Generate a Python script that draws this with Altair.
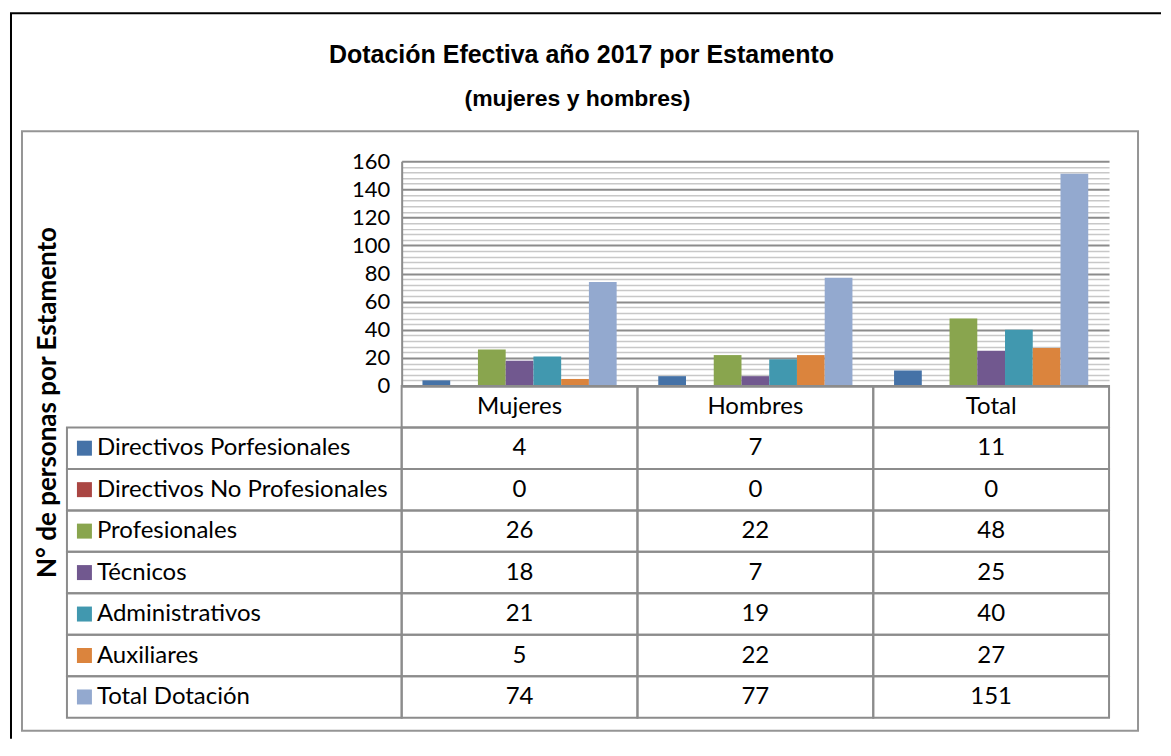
import altair as alt
import pandas as pd

# ---------------- data ----------------
categories = ["Mujeres", "Hombres", "Total"]
series = [
    "Directivos Porfesionales",
    "Directivos No Profesionales",
    "Profesionales",
    "Técnicos",
    "Administrativos",
    "Auxiliares",
    "Total Dotación",
]
values_mujeres = [4, 0, 26, 18, 21, 5, 74]
values_hombres = [7, 0, 22, 7, 19, 22, 77]
values_total = [11, 0, 48, 25, 40, 27, 151]
colors = ["#4572A7", "#AA4643", "#89A54E", "#71588F", "#4198AF", "#DB843D", "#93A9CF"]
y_ticks = list(range(0, 161, 4))

title_text = "Dotación Efectiva año 2017 por Estamento"
subtitle_text = "(mujeres y hombres)"
y_title = "N° de personas por Estamento"

# ---------------- styles ----------------
FONT = "Lato"
TFONT = "Liberation Sans Narrow, Arial Narrow, Liberation Sans"
GRAY = "#8C8C8C"
FS = 22
TFS = 24
HEADER = " "
row_order = [HEADER] + series

records = []
for cat, vals in zip(categories, [values_mujeres, values_hombres, values_total]):
    for s, v in zip(series, vals):
        records.append({"cat": cat, "serie": s, "valor": v})
df = pd.DataFrame(records)

table_records = [{"cat": c, "fila": HEADER, "texto": c} for c in categories]
table_records += [{"cat": r["cat"], "fila": r["serie"], "texto": str(r["valor"])} for r in records]
tdf = pd.DataFrame(table_records)

ldf = pd.DataFrame({"fila": series, "serie": series})
one = pd.DataFrame({"k": [0]})

color_scale = alt.Scale(domain=series, range=colors)

# ---------------- bar chart ----------------
bars = alt.Chart(df).mark_bar().encode(
    x=alt.X("cat:N", sort=categories,
            scale=alt.Scale(paddingInner=0, paddingOuter=0),
            axis=alt.Axis(labels=False, ticks=False, title=None, domainColor=GRAY, domainWidth=2)),
    xOffset=alt.XOffset("serie:N", sort=series,
                        scale=alt.Scale(paddingInner=0, paddingOuter=0.75)),
    y=alt.Y("valor:Q", scale=alt.Scale(domain=[0, 160], nice=False),
            axis=alt.Axis(
                values=y_ticks, ticks=False, labelOverlap=False, labelFlush=False,
                labelExpr="datum.value % 20 === 0 ? datum.label : ''",
                labelFont=FONT, labelFontSize=FS, labelColor="black", labelPadding=12,
                domainColor=GRAY, domainWidth=2,
                gridColor={"condition": {"test": "datum.value % 20 === 0", "value": "#8C8C8C"}, "value": "#C8C8C8"},
                gridWidth={"condition": {"test": "datum.value % 20 === 0", "value": 2}, "value": 1.5},
                title=y_title, titleFont=FONT, titleFontSize=26, titleFontWeight="bold",
                titleColor="black", titleAngle=270, titleAlign="center", titleBaseline="alphabetic",
                titleX=-346, titleY=241,
            )),
    color=alt.Color("serie:N", sort=series, scale=color_scale, legend=None),
).properties(width=708, height=225)

# ---------------- values table ----------------
tbase = alt.Chart(tdf).encode(
    x=alt.X("cat:N", sort=categories, scale=alt.Scale(paddingInner=0, paddingOuter=0), axis=None),
    y=alt.Y("fila:N", sort=row_order, scale=alt.Scale(domain=row_order, paddingInner=0, paddingOuter=0), axis=None),
)
tcells = tbase.mark_rect(fillOpacity=0, stroke=GRAY, strokeWidth=2)
ttext = tbase.mark_text(font=FONT, fontSize=TFS, color="black").encode(text="texto:N")
values_chart = alt.layer(tcells, ttext).properties(width=708, height=332)

# ---------------- legend column ----------------
lbase = alt.Chart(ldf).encode(
    y=alt.Y("fila:N", sort=row_order, scale=alt.Scale(domain=row_order, paddingInner=0, paddingOuter=0), axis=None),
)
lcells = lbase.mark_rect(fillOpacity=0, stroke=GRAY, strokeWidth=2).encode(x=alt.value(0), x2=alt.value(335))
lswatch = lbase.mark_square(size=225, opacity=1).encode(
    x=alt.value(17.5),
    color=alt.Color("serie:N", sort=series, scale=color_scale, legend=None),
)
ltext = lbase.mark_text(align="left", font=FONT, fontSize=TFS, color="black").encode(
    x=alt.value(30), text="serie:N")
legend_chart = alt.layer(lcells, lswatch, ltext).properties(width=335, height=332)

# ---------------- frame + titles (top-left cell) ----------------
frame_gray = alt.Chart(one).mark_rect(fillOpacity=0, stroke="#959595", strokeWidth=2).encode(
    x=alt.value(-45), y=alt.value(-30), x2=alt.value(1072), y2=alt.value(570))
black_left = alt.Chart(one).mark_rule(color="black", strokeWidth=2).encode(
    x=alt.value(-56), y=alt.value(-148), y2=alt.value(578))
black_top = alt.Chart(one).mark_rule(color="black", strokeWidth=2).encode(
    x=alt.value(-57), x2=alt.value(1095), y=alt.value(-148))
t1 = alt.Chart(one).mark_text(text=title_text, font=TFONT, fontSize=25, fontWeight="bold",
                              color="black", align="center", baseline="alphabetic").encode(
    x=alt.value(515), y=alt.value(-98))
t2 = alt.Chart(one).mark_text(text=subtitle_text, font=TFONT, fontSize=23, fontWeight="bold",
                              color="black", align="center", baseline="alphabetic").encode(
    x=alt.value(511), y=alt.value(-55))
corner = alt.layer(frame_gray, black_left, black_top, t1, t2).properties(width=335, height=225)

chart = alt.concat(
    corner, bars, legend_chart, values_chart,
    columns=2, spacing=0, bounds="flush", align="each",
).properties(
    padding={"left": 0, "top": 3, "right": 0, "bottom": 0},
    background="white",
).configure_view(stroke="transparent")

chart.save("out.html", embed_options={"renderer": "svg", "actions": False})
